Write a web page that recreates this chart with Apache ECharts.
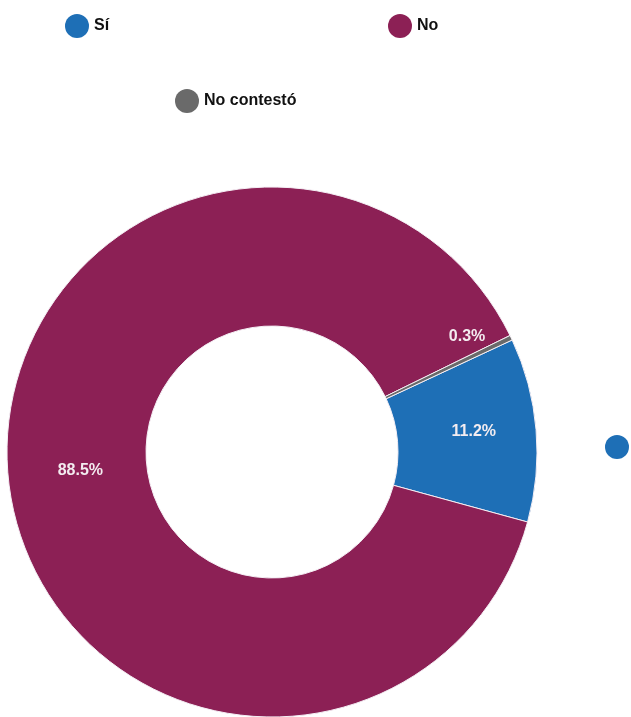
<!DOCTYPE html>
<html>
<head>
<meta charset="utf-8">
<script src="https://cdn.jsdelivr.net/npm/echarts@6/dist/echarts.min.js"></script>
<style>
html,body{margin:0;padding:0;background:#fff;}
#chart{width:631px;height:717px;}
</style>
</head>
<body>
<div id="chart"></div>
<script>
const categories = ['Sí', 'No', 'No contestó'];
const values = [11.2, 88.5, 0.3];
const colors = ['#1e6fb6', '#8c2055', '#6a6a6a'];

const chart = echarts.init(document.getElementById('chart'));
const labelOffsets = [[4, -4], [6, 0], [16, -30]];
const data = categories.map((c, i) => ({
  name: c,
  value: values[i],
  itemStyle: { color: colors[i] },
  label: { offset: labelOffsets[i] }
}));
const legendBase = {
  icon: 'circle', itemWidth: 24, itemHeight: 24, itemGap: 10,
  itemStyle: { borderWidth: 0 },
  textStyle: { fontFamily: 'Liberation Sans, Arial, sans-serif', fontSize: 16, fontWeight: 'bold', color: '#111' },
  selectedMode: false
};
chart.setOption({
  animation: false,
  legend: [
    Object.assign({}, legendBase, { data: [categories[0]], left: 60, top: 9 }),
    Object.assign({}, legendBase, { data: [categories[1]], left: 383, top: 9 }),
    Object.assign({}, legendBase, { data: [categories[2]], left: 170, top: 84 })
  ],
  graphic: [{
    type: 'circle', shape: { cx: 617, cy: 447, r: 12 }, style: { fill: colors[0] }
  }],
  series: [{
    type: 'pie',
    center: [272, 452],
    radius: [126, 265],
    startAngle: 25,
    clockwise: true,
    avoidLabelOverlap: false,
    itemStyle: { borderColor: '#f4eef4', borderWidth: 1 },
    label: {
      show: true,
      position: 'inside',
      formatter: p => p.value.toFixed(1) + '%',
      color: '#f3ecf0',
      fontFamily: 'Liberation Sans, Arial, sans-serif',
      fontSize: 16,
      fontWeight: 'bold'
    },
    labelLine: { show: false },
    emphasis: { disabled: true },
    data: data
  }]
});
</script>
</body>
</html>
